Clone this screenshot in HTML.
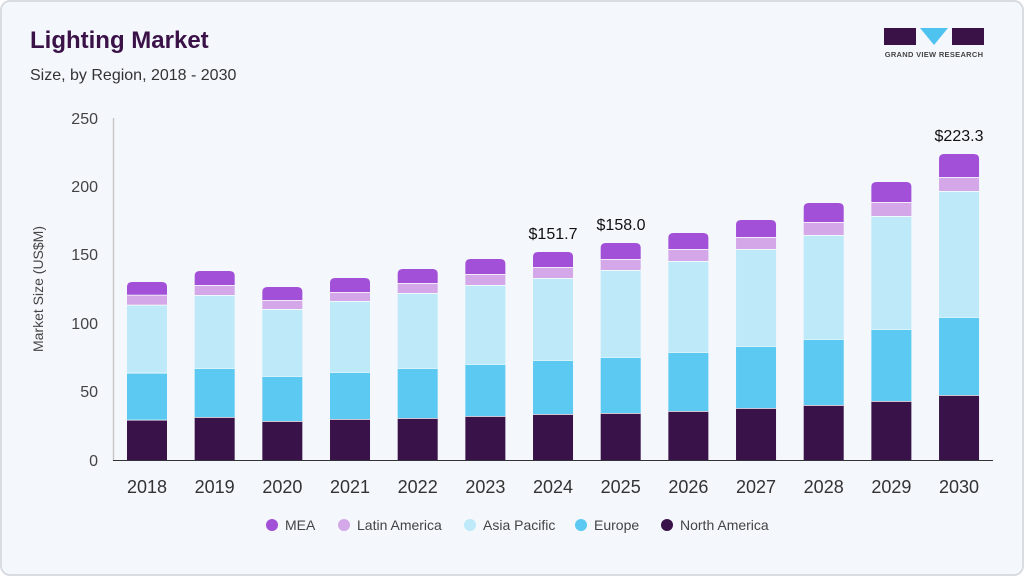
<!DOCTYPE html>
<html><head><meta charset="utf-8"><style>
html,body{margin:0;padding:0;background:#fff;}
.card{position:absolute;left:0;top:0;width:1020px;height:572px;border:2px solid #d9dce2;border-radius:10px;background:#f4f7fc;overflow:hidden;}
text{font-family:"Liberation Sans",sans-serif;}
</style></head><body>
<div class="card">
<svg width="1020" height="572" viewBox="2 2 1020 572" xmlns="http://www.w3.org/2000/svg">
<text x="30" y="48" font-size="24" font-weight="bold" fill="#3a1248">Lighting Market</text>
<text x="30" y="80" font-size="16" fill="#333">Size, by Region, 2018 - 2030</text>
<!-- logo -->
<rect x="884" y="28" width="32" height="17" fill="#3a1248"/>
<polygon points="920,28 948,28 934,45" fill="#4fc3f0"/>
<rect x="952" y="28" width="32" height="17" fill="#3a1248"/>
<text x="934" y="57" font-size="7.5" font-weight="bold" fill="#444" text-anchor="middle" letter-spacing="0.3">GRAND VIEW RESEARCH</text>
<!-- axes -->
<line x1="113.5" y1="118" x2="113.5" y2="461" stroke="#c8c8c8" stroke-width="1.5"/>
<line x1="113" y1="460.5" x2="993" y2="460.5" stroke="#333" stroke-width="1"/>
<g font-size="16" fill="#444" text-anchor="end">
<text x="98" y="466">0</text><text x="98" y="397">50</text><text x="98" y="329">100</text><text x="98" y="260">150</text><text x="98" y="192">200</text><text x="98" y="124">250</text>
</g>
<text transform="translate(43,289) rotate(-90)" font-size="14" fill="#444" text-anchor="middle">Market Size (US$M)</text>
<g id="bars"></g>
<g font-size="18" fill="#333" text-anchor="middle" id="xl"></g>
<g font-size="16" fill="#111" text-anchor="middle">
<text x="553" y="239">$151.7</text><text x="621" y="230">$158.0</text><text x="959" y="141">$223.3</text>
</g>
<g font-size="14" fill="#444">
<circle cx="272" cy="525" r="6" fill="#a350d8"/><text x="285" y="530">MEA</text>
<circle cx="344" cy="525" r="6" fill="#d4a8e8"/><text x="357" y="530">Latin America</text>
<circle cx="470" cy="525" r="6" fill="#bde9f9"/><text x="483" y="530">Asia Pacific</text>
<circle cx="581" cy="525" r="6" fill="#5bc9f2"/><text x="594" y="530">Europe</text>
<circle cx="667" cy="525" r="6" fill="#381248"/><text x="680" y="530">North America</text>
</g>
</svg>
<script>
var d=[[419.7,372.7,304.7,294.7,282],[417,368,295,285,271],[421,376,309,300,287],[419,372,301,292,278],[418,368,293,283,269],[416,364,285,274,259],[414,360,278,267,252],[413,357,270,259,243],[411,352,261,249,233],[408,346,249,237,220],[405,339,235,222,203],[401,329,216,202,182],[395,317,191,177,154]];
var cols=["#381248","#5bc9f2","#bde9f9","#d4a8e8","#a350d8"];
var ns="http://www.w3.org/2000/svg",g=document.getElementById("bars"),xl=document.getElementById("xl");
d.forEach(function(b,i){
 var cx=147+i*67.67,x=cx-20,prev=460;
 b.forEach(function(t,j){
  var r;
  if(j==4){r=document.createElementNS(ns,"path");
   var h=prev-t,rr=5;
   r.setAttribute("d","M"+x+","+prev+"V"+(t+rr)+"Q"+x+","+t+" "+(x+rr)+","+t+"H"+(x+40-rr)+"Q"+(x+40)+","+t+" "+(x+40)+","+(t+rr)+"V"+prev+"Z");}
  else{r=document.createElementNS(ns,"rect");r.setAttribute("x",x);r.setAttribute("y",t);r.setAttribute("width",40);r.setAttribute("height",prev-t);}
  r.setAttribute("fill",cols[j]);g.appendChild(r);
  if(j<4){var l=document.createElementNS(ns,"line");l.setAttribute("x1",x);l.setAttribute("x2",x+40);l.setAttribute("y1",t);l.setAttribute("y2",t);l.setAttribute("stroke","#fff");l.setAttribute("stroke-width","1.5");g.appendChild(l);}
  prev=t;
 });
 var tx=document.createElementNS(ns,"text");tx.setAttribute("x",cx);tx.setAttribute("y",493);tx.textContent=2018+i;xl.appendChild(tx);
});
</script>
</div>
</body></html>
